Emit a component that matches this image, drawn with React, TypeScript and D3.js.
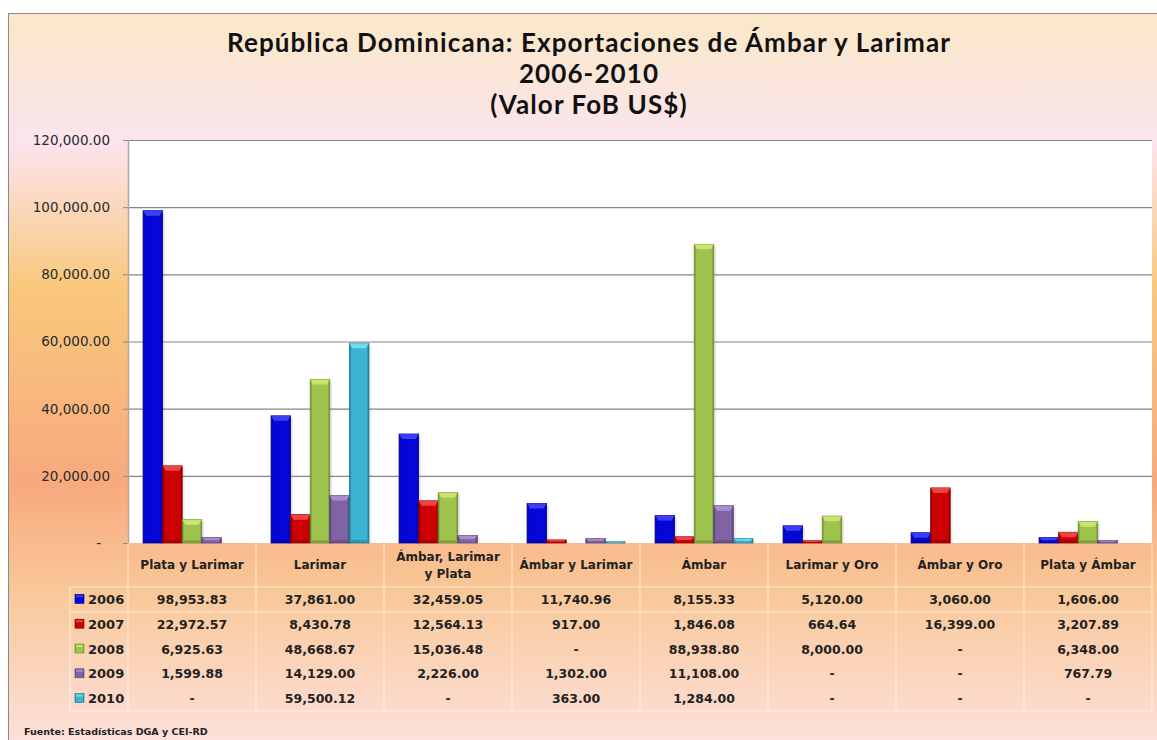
import React from 'react';
import * as d3 from 'd3';

const categories = ['Plata y Larimar', 'Larimar', 'Ámbar, Larimar y Plata', 'Ámbar y Larimar', 'Ámbar', 'Larimar y Oro', 'Ámbar y Oro', 'Plata y Ámbar'];
const years = ['2006', '2007', '2008', '2009', '2010'];

const v2006 = [98953.83, 37861.0, 32459.05, 11740.96, 8155.33, 5120.0, 3060.0, 1606.0];
const v2007 = [22972.57, 8430.78, 12564.13, 917.0, 1846.08, 664.64, 16399.0, 3207.89];
const v2008 = [6925.63, 48668.67, 15036.48, null, 88938.8, 8000.0, null, 6348.0];
const v2009 = [1599.88, 14129.0, 2226.0, 1302.0, 11108.0, null, null, 767.79];
const v2010 = [null, 59500.12, null, 363.0, 1284.0, null, null, null];

const yTicks = [0, 20000, 40000, 60000, 80000, 100000, 120000];

const seriesValues: (number | null)[][] = [v2006, v2007, v2008, v2009, v2010];

// base, dark edge, light bevel
const palette = [
  ['#0606d8', '#00009c', '#5050ff'],
  ['#cc0202', '#880000', '#ff5a5a'],
  ['#9fc44e', '#6b8a34', '#d6f27a'],
  ['#8063a3', '#56427a', '#b89ade'],
  ['#3bb3d3', '#207890', '#85e6f8'],
];

const W = 1157;
const H = 740;
const plot = { left: 128, right: 1152, top: 140, bottom: 543 };
const table = { legendLeft: 70, headerBottom: 587, rowH: 24.8 };

const fmt = d3.format(',.2f');

function wrap(label: string, max = 15) {
  const words = label.split(' ');
  const lines: string[] = [];
  let cur = '';
  words.forEach(w => {
    const next = cur ? cur + ' ' + w : w;
    if (next.length > max && cur) {
      lines.push(cur);
      cur = w;
    } else cur = next;
  });
  if (cur) lines.push(cur);
  return lines;
}

export default function App() {
  const x0 = d3.scaleBand<string>().domain(categories).range([plot.left, plot.right]).padding(0);
  const x1 = d3.scaleBand<string>().domain(years).range([0, x0.bandwidth()]).paddingInner(0).paddingOuter(0.77);
  const y = d3.scaleLinear().domain([0, 120000]).range([plot.bottom, plot.top]);

  const tableBottom = table.headerBottom + table.rowH * years.length;

  return (
    <svg width={W} height={H} style={{ position: 'absolute', left: 0, top: 0 }}>
      <defs>
        <linearGradient id="bg" x1="0" y1="0" x2="0" y2="1">
          <stop offset="0" stopColor="#fae8c6" />
          <stop offset="0.17" stopColor="#fce4ee" />
          <stop offset="0.36" stopColor="#f9c87c" />
          <stop offset="0.62" stopColor="#f8a97e" />
          <stop offset="0.76" stopColor="#f9c898" />
          <stop offset="1" stopColor="#fde5ea" />
        </linearGradient>
        {palette.map((c, i) => (
          <linearGradient key={i} id={'bar' + i} x1="0" y1="0" x2="1" y2="0">
            <stop offset="0" stopColor={c[1]} />
            <stop offset="0.12" stopColor={c[0]} />
            <stop offset="0.5" stopColor={c[0]} />
            <stop offset="0.88" stopColor={c[0]} />
            <stop offset="1" stopColor={c[1]} />
          </linearGradient>
        ))}
      </defs>

      <rect x={0} y={0} width={W} height={H} fill="#fff" />
      <rect x={8.5} y={13.5} width={W + 20} height={H + 20} fill="url(#bg)" stroke="#8a8a8a" strokeWidth={1} />

      {/* title */}
      <g fontFamily="Lato, 'Open Sans', sans-serif" fontWeight="bold" fontSize={26} letterSpacing={1.1} fill="#111" textAnchor="middle">
        <text x={589} y={52}>República Dominicana: Exportaciones de Ámbar y Larimar</text>
        <text x={589} y={83}>2006-2010</text>
        <text x={589} y={114}>(Valor FoB US$)</text>
      </g>

      {/* plot area */}
      <rect x={plot.left} y={plot.top} width={plot.right - plot.left} height={plot.bottom - plot.top} fill="#fff" />
      <g>
        {yTicks.map(t => (
          <g key={t}>
            {t > 0 && <line x1={plot.left} x2={plot.right} y1={y(t) + 0.5} y2={y(t) + 0.5} stroke="#858585" strokeWidth={1.2} />}
            <line x1={plot.left - 5} x2={plot.left} y1={y(t) + 0.5} y2={y(t) + 0.5} stroke="#8a8a8a" />
            <text x={t === 0 ? 101 : 110} y={y(t)} dy="0.36em" textAnchor="end" fontFamily="'DejaVu Sans', Verdana, sans-serif" fontSize={13.5} fill="#2a2a2a">
              {t === 0 ? '-' : fmt(t)}
            </text>
          </g>
        ))}
        <line x1={plot.left + 0.5} x2={plot.left + 0.5} y1={plot.top} y2={plot.bottom} stroke="#b0a8a0" strokeWidth={1.5} />
      </g>

      {/* bars */}
      <g>
        {categories.map((cat, ci) => (
          <g key={cat} transform={`translate(${x0(cat)},0)`}>
            {years.map((yr, si) => {
              const v = seriesValues[si][ci];
              if (v == null) return null;
              const bx = x1(yr) as number;
              const bw = x1.bandwidth();
              const top = y(v);
              const h = plot.bottom - top;
              const bev = Math.min(5, h / 2);
              const c = palette[si];
              return (
                <g key={yr}>
                  <rect x={bx + 2.5} y={top + 2} width={bw} height={h - 2} fill="#000" opacity={0.07} />
                  <rect x={bx} y={top} width={bw} height={h} fill={`url(#bar${si})`} stroke={c[1]} strokeWidth={0.8} />
                  <path
                    d={`M${bx},${top}L${bx + bw},${top}L${bx + bw - 3},${top + bev}L${bx + 3},${top + bev}Z`}
                    fill={c[2]}
                    opacity={0.75}
                  />
                  {h > 8 && (
                    <path
                      d={`M${bx + 3},${plot.bottom - 3}L${bx + bw - 3},${plot.bottom - 3}L${bx + bw},${plot.bottom}L${bx},${plot.bottom}Z`}
                      fill={c[1]}
                      opacity={0.5}
                    />
                  )}
                </g>
              );
            })}
          </g>
        ))}
      </g>

      {/* data table */}
      <g fontFamily="'DejaVu Sans', Verdana, sans-serif" fontWeight="bold" fill="#222">
        {categories.map(cat => {
          const lines = wrap(cat);
          const cx = (x0(cat) as number) + x0.bandwidth() / 2;
          const cy = (plot.bottom + table.headerBottom) / 2;
          return (
            <text key={cat} x={cx} textAnchor="middle" fontSize={12}>
              {lines.map((l, li) => (
                <tspan key={li} x={cx} y={cy + (li - (lines.length - 1) / 2) * 17} dy="0.36em">
                  {l}
                </tspan>
              ))}
            </text>
          );
        })}
        {years.map((yr, si) => {
          const ry = table.headerBottom + table.rowH * si + table.rowH / 2;
          const c = palette[si];
          return (
            <g key={yr}>
              <rect x={75} y={ry - 5} width={9} height={9} fill={`url(#bar${si})`} stroke={c[1]} strokeWidth={0.6} />
              <rect x={76} y={ry - 4} width={7} height={2} fill={c[2]} opacity={0.7} />
              <text x={88} y={ry} dy="0.36em" fontSize={13}>{yr}</text>
              {categories.map((cat, ci) => {
                const v = seriesValues[si][ci];
                return (
                  <text key={cat} x={(x0(cat) as number) + x0.bandwidth() / 2} y={ry} dy="0.36em" textAnchor="middle" fontSize={12.5}>
                    {v == null ? '-' : fmt(v)}
                  </text>
                );
              })}
            </g>
          );
        })}
      </g>
      <g stroke="#fff" strokeOpacity={0.55} strokeWidth={1.2}>
        <line x1={table.legendLeft} x2={plot.right} y1={table.headerBottom} y2={table.headerBottom} />
        <line x1={table.legendLeft} x2={plot.right} y1={table.headerBottom + table.rowH} y2={table.headerBottom + table.rowH} />
        <line x1={table.legendLeft} x2={plot.right} y1={tableBottom} y2={tableBottom} />
        <line x1={table.legendLeft} x2={table.legendLeft} y1={table.headerBottom} y2={tableBottom} />
        {categories.map(cat => (
          <line key={cat} x1={x0(cat)} x2={x0(cat)} y1={plot.bottom} y2={tableBottom} />
        ))}
        <line x1={plot.right} x2={plot.right} y1={plot.bottom} y2={tableBottom} />
      </g>

      <text x={24} y={735} fontFamily="'DejaVu Sans', Verdana, sans-serif" fontWeight="bold" fontSize={9.5} fill="#222">
        Fuente: Estadísticas DGA y CEI-RD
      </text>
    </svg>
  );
}
